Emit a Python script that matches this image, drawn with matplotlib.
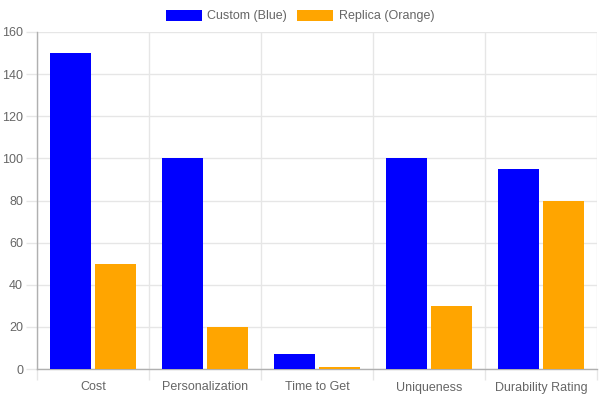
import matplotlib
matplotlib.use("Agg")
from matplotlib import pyplot as plt
import numpy as np

categories = ["Cost", "Personalization", "Time to Get", "Uniqueness", "Durability Rating"]
custom_vals = [150, 100, 7, 100, 95]
replica_vals = [50, 20, 1, 30, 80]
series_names = ["Custom (Blue)", "Replica (Orange)"]
y_ticks = [0, 20, 40, 60, 80, 100, 120, 140, 160]

plt.rcParams['font.family'] = ['Liberation Sans', 'DejaVu Sans']

grid_col = '#e6e6e6'
axis_col = '#b0b0b0'
text_col = '#666666'

fig = plt.figure(figsize=(6, 4), dpi=100)
ax = fig.add_axes([37/600, 31/400, 560/600, 337/400])

x = np.arange(len(categories))
w = 0.8 / 2 * 0.9  # chart.js style category/bar percentage
b1 = ax.bar(x - 0.2, custom_vals, w, color='#0000ff', label=series_names[0], zorder=3)
b2 = ax.bar(x + 0.2, replica_vals, w, color='#ffa500', label=series_names[1], zorder=3)

ax.set_xlim(-0.5, len(categories) - 0.5)
ax.set_ylim(0, 160)
ax.set_yticks(y_ticks)
ax.set_xticks(x)
ax.set_xticklabels(categories)
ax.set_xticks(np.arange(-0.5, len(categories)), minor=True)

# gridlines
ax.grid(True, axis='y', color=grid_col, linewidth=1, zorder=0)
ax.grid(True, axis='x', which='minor', color=grid_col, linewidth=1, zorder=0)
ax.tick_params(axis='x', which='major', length=0, pad=9, labelsize=9, labelcolor=text_col)
ax.tick_params(axis='x', which='minor', length=8, color=grid_col, width=1)
ax.tick_params(axis='y', length=8, color=grid_col, width=1, pad=2, labelsize=9, labelcolor=text_col)

# ticks touching the axis lines are drawn darker
ax.xaxis.get_minor_ticks()[0].tick1line.set_color(axis_col)
ax.yaxis.get_major_ticks()[0].tick1line.set_color(axis_col)

for s in ['top', 'right']:
    ax.spines[s].set_visible(False)
for s in ['left', 'bottom']:
    ax.spines[s].set_color(axis_col)
    ax.spines[s].set_linewidth(1)

fig.legend(handles=[b1, b2], loc='center', bbox_to_anchor=(0.5, 1 - 16/400), ncol=2,
           frameon=False, fontsize=9, labelcolor=text_col, handlelength=2.9,
           handleheight=1.0, handletextpad=0.45, columnspacing=0.8, borderaxespad=0)

fig.savefig("out.png", dpi=100)
